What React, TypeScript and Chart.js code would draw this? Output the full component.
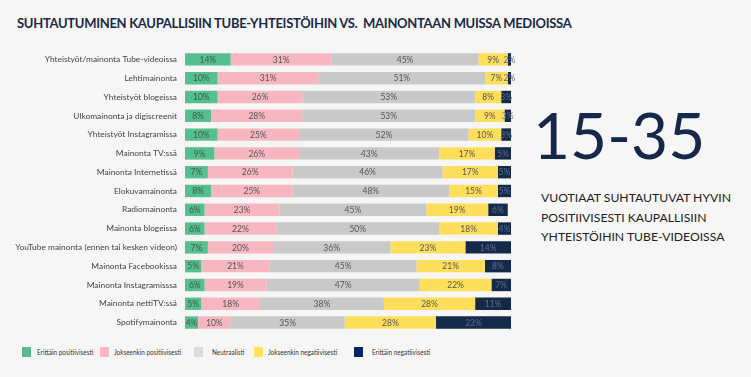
import React, { useEffect, useRef } from "react";
import { Chart, registerables } from "chart.js";

Chart.register(...registerables);

const categories = [
  "Yhteistyöt/mainonta Tube-videoissa",
  "Lehtimainonta",
  "Yhteistyöt blogeissa",
  "Ulkomainonta ja digiscreenit",
  "Yhteistyöt Instagramissa",
  "Mainonta TV:ssä",
  "Mainonta Internetissä",
  "Elokuvamainonta",
  "Radiomainonta",
  "Mainonta blogeissa",
  "YouTube mainonta (ennen tai kesken videon)",
  "Mainonta Facebookissa",
  "Mainonta Instagramisssa",
  "Mainonta nettiTV:ssä",
  "Spotifymainonta",
];

const erittainPositiivisesti = [14, 10, 10, 8, 10, 9, 7, 8, 6, 6, 7, 5, 6, 5, 4];
const jokseenkinPositiivisesti = [31, 31, 26, 28, 25, 26, 26, 25, 23, 22, 20, 21, 19, 18, 10];
const neutraalisti = [45, 51, 53, 53, 52, 43, 46, 48, 45, 50, 36, 45, 47, 38, 35];
const jokseenkinNegatiivisesti = [9, 7, 8, 9, 10, 17, 17, 15, 19, 18, 23, 21, 22, 28, 28];
const erittainNegatiivisesti = [2, 2, 3, 3, 3, 5, 5, 5, 6, 4, 14, 8, 7, 11, 23];

const seriesNames = [
  "Erittäin positiivisesti",
  "Jokseenkin positiivisesti",
  "Neutraalisti",
  "Jokseenkin negatiivisesti",
  "Erittäin negatiivisesti",
];
const seriesColors = ["#55bf8d", "#f6b7c1", "#c9c9c9", "#fedf5b", "#152a4a"];
const legendColors = ["#5cb98e", "#f7b9c3", "#dcdcdc", "#fde35c", "#0d2262"];
const labelColors = ["#3f5a4a", "#555555", "#555555", "#555555", "#5d6e8c"];
const legendLeft = [22, 100, 194, 254, 354];
const legendGap = [6, 5, 9, 5, 9];

const FONT = "Lato, 'Noto Sans', sans-serif";

const valueLabels = {
  id: "valueLabels",
  afterDatasetsDraw(chart: any) {
    const ctx = chart.ctx;
    const area = chart.chartArea;
    ctx.save();
    ctx.font = `8.5px ${FONT}`;
    ctx.textAlign = "center";
    ctx.textBaseline = "middle";
    chart.data.datasets.forEach((ds: any, di: number) => {
      const meta = chart.getDatasetMeta(di);
      meta.data.forEach((bar: any, i: number) => {
        const v = ds.data[i];
        const left = Math.min(bar.base, bar.x);
        const right = Math.min(Math.max(bar.base, bar.x), area.right);
        const cx = (left + right) / 2;
        ctx.fillStyle = labelColors[di];
        ctx.fillText(`${v}%`, cx, bar.y + 0.5);
      });
    });
    ctx.restore();
  },
};

export default function App() {
  const ref = useRef<HTMLCanvasElement>(null);

  useEffect(() => {
    if (!ref.current) return;
    const data = [
      erittainPositiivisesti,
      jokseenkinPositiivisesti,
      neutraalisti,
      jokseenkinNegatiivisesti,
      erittainNegatiivisesti,
    ];
    const chart = new Chart(ref.current, {
      type: "bar",
      data: {
        labels: categories,
        datasets: data.map((d, i) => ({
          label: seriesNames[i],
          data: d,
          backgroundColor: seriesColors[i],
          borderWidth: 0,
          categoryPercentage: 0.66,
          barPercentage: 1,
        })),
      },
      options: {
        indexAxis: "y",
        animation: false,
        responsive: false,
        maintainAspectRatio: false,
        layout: { padding: { top: 50, right: 9, bottom: 9, left: 0 } },
        plugins: {
          legend: { display: false },
          tooltip: { enabled: false },
          title: { display: false },
        },
        scales: {
          x: {
            stacked: true,
            min: 0,
            max: 100,
            display: false,
          },
          y: {
            stacked: true,
            grid: { display: false, drawTicks: false },
            border: { display: false },
            ticks: {
              color: "#444444",
              font: { family: FONT, size: 8.4 },
              padding: 8,
              autoSkip: false,
            },
            afterFit(scale: any) {
              scale.width = 185;
            },
          },
        },
      },
      plugins: [valueLabels],
    });
    return () => chart.destroy();
  }, []);

  return (
    <div
      style={{
        position: "fixed",
        left: 0,
        top: 0,
        width: 751,
        height: 377,
        background: "#f6f6f6",
        overflow: "hidden",
        fontFamily: FONT,
      }}
    >
      <div
        style={{
          position: "absolute",
          left: 17,
          top: 15,
          fontSize: 13,
          fontWeight: 700,
          color: "#1b2a45",
          whiteSpace: "nowrap",
          letterSpacing: -0.3,
        }}
      >
        SUHTAUTUMINEN KAUPALLISIIN TUBE-YHTEISTÖIHIN VS.&nbsp; MAINONTAAN MUISSA MEDIOISSA
      </div>
      <canvas
        ref={ref}
        width={520}
        height={345}
        style={{ position: "absolute", left: 0, top: 0, width: 520, height: 345 }}
      />
      <div
        style={{
          position: "absolute",
          left: 533,
          top: 100,
          fontSize: 64,
          color: "#15284a",
          lineHeight: "70px",
          whiteSpace: "nowrap",
        }}
      >
        15-35
      </div>
      <div
        style={{
          position: "absolute",
          left: 541,
          top: 188,
          fontSize: 12.2,
          color: "#222222",
          lineHeight: "19.5px",
          whiteSpace: "nowrap",
        }}
      >
        VUOTIAAT SUHTAUTUVAT HYVIN
        <br />
        POSITIIVISESTI KAUPALLISIIN
        <br />
        YHTEISTÖIHIN TUBE-VIDEOISSA
      </div>
      {seriesNames.map((name, i) => (
        <div
          key={name}
          style={{
            position: "absolute",
            left: legendLeft[i],
            top: 347,
            display: "flex",
            alignItems: "center",
            whiteSpace: "nowrap",
          }}
        >
          <span
            style={{
              display: "inline-block",
              width: 9,
              height: 10,
              background: legendColors[i],
              marginRight: legendGap[i],
            }}
          />
          <span
            style={{
              display: "inline-block",
              fontSize: 7.8,
              color: "#333333",
              transform: "scaleX(0.82)",
              transformOrigin: "left center",
            }}
          >
            {name}
          </span>
        </div>
      ))}
    </div>
  );
}
